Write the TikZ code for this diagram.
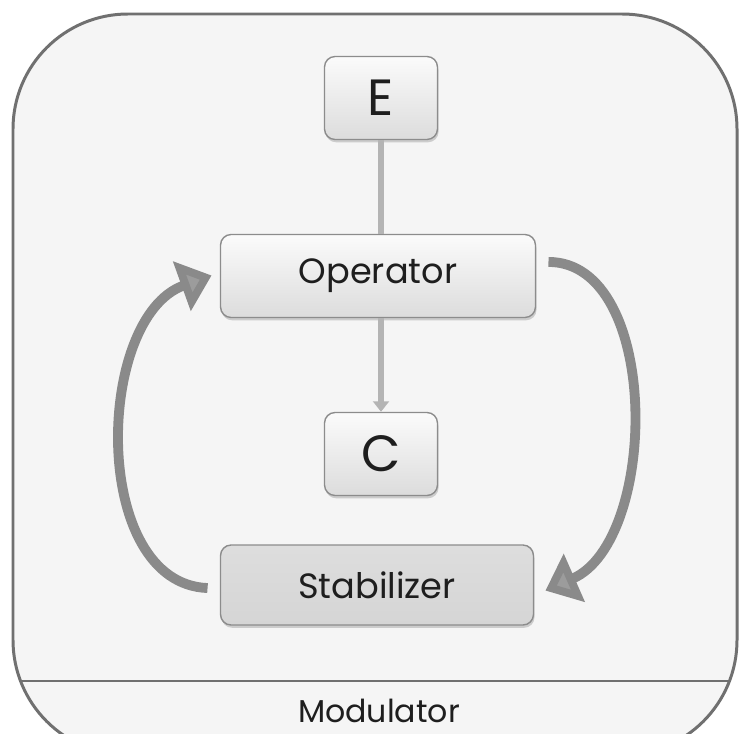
\documentclass[tikz,border=0pt]{standalone}
\usepackage{fontspec}
\setmainfont{Poppins}
\usetikzlibrary{arrows.meta,shadows}
\definecolor{paper}{RGB}{245,245,245}
\definecolor{rim}{RGB}{112,112,112}
\definecolor{boxtop}{RGB}{251,251,251}
\definecolor{boxbot}{RGB}{220,220,220}
\definecolor{boxedge}{RGB}{140,140,140}
\definecolor{stabfill}{RGB}{213,213,213}
\definecolor{link}{RGB}{180,180,180}
\definecolor{loopc}{RGB}{138,138,138}
\definecolor{ink}{RGB}{30,30,30}

\begin{document}
\begin{tikzpicture}[x=0.02cm,y=-0.02cm,
 block/.style={draw=boxedge,line width=.8pt,rounded corners=6pt,top color=boxtop,bottom color=boxbot,text=ink,
  font=\fontsize{20}{24}\selectfont,minimum height=1.66cm,
  drop shadow={shadow xshift=.6pt,shadow yshift=-1.6pt,opacity=.35}},
 letter/.style={block,minimum width=2.26cm,font=\fontsize{29}{34}\selectfont},
 link/.style={draw=link,line width=3.4pt},
 loop/.style={draw=loopc,line width=5.6pt,-{Triangle[length=18pt,width=29pt,fill=loopc!85!white]}}]
% page and outer frame
\fill[white] (0,0) rectangle (739,733);
\clip (0,0) rectangle (739,733);
\draw[draw=rim,fill=paper,line width=1.7pt,rounded corners=2.3cm] (13,14) rectangle (737,755);
\begin{scope}
 \clip[rounded corners=2.3cm] (13,14) rectangle (737,755);
 \draw[rim,line width=1.1pt] (0,681) -- (739,681);
\end{scope}
% blocks
\node[letter] (e) at (381,98) {E};
\node[block,minimum width=6.3cm] (op) at (378,276) {Operator};
\node[letter] (c) at (381,454) {C};
\node[block,minimum width=6.26cm,minimum height=1.6cm,top color=stabfill!80!white,bottom color=stabfill] (stab) at (377,585) {Stabilizer};
\node[text=ink,font=\fontsize{18}{22}\selectfont] (mod) at (379,711) {Modulator};
% links
\draw[link] (e.south) -- (e.south |- op.north);
\draw[link,-{Triangle[length=6pt,width=9pt]}] (c.north |- op.south) -- (c.north);
% feedback loop
\draw[loop,shorten <=7pt,shorten >=5pt] ([yshift=-2pt]stab.west) .. controls +(-130,-5) and +(-125,45) .. ([yshift=2pt]op.west);
\draw[loop,shorten <=7pt,shorten >=7pt] ([yshift=8pt]op.east) .. controls +(125,0) and +(125,-55) .. ([yshift=-6pt]stab.east);
\end{tikzpicture}
\end{document}
